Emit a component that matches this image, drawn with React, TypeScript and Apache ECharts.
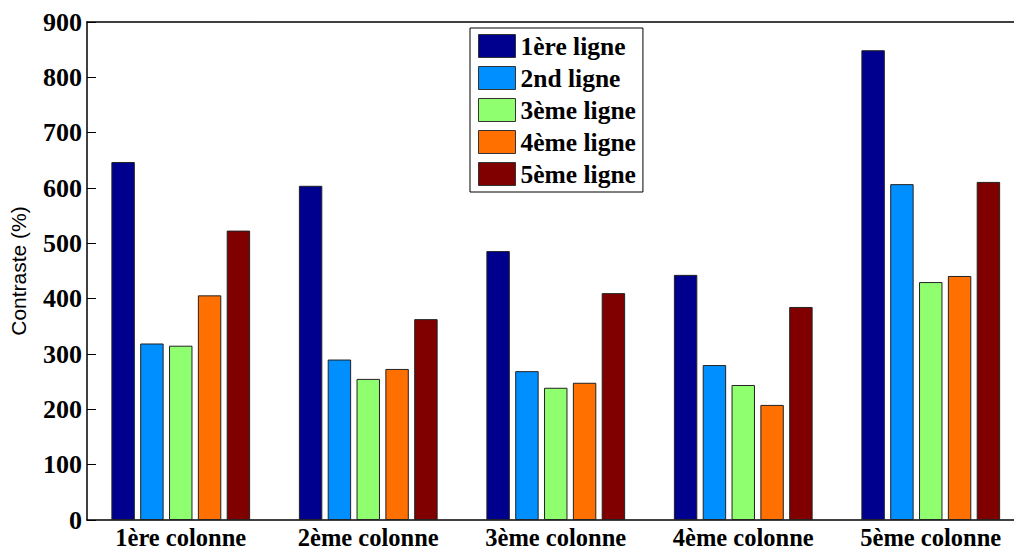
import React, { useEffect, useRef } from "react";
import * as echarts from "echarts";

const categories = ["1ère colonne", "2ème colonne", "3ème colonne", "4ème colonne", "5ème colonne"];
const seriesNames = ["1ère ligne", "2nd ligne", "3ème ligne", "4ème ligne", "5ème ligne"];
const ligne1 = [647, 604, 486, 443, 849];
const ligne2 = [319, 290, 269, 280, 607];
const ligne3 = [315, 255, 239, 244, 430];
const ligne4 = [406, 273, 248, 208, 441];
const ligne5 = [523, 363, 410, 385, 611];
const seriesValues = [ligne1, ligne2, ligne3, ligne4, ligne5];
const colors = ["#00008F", "#008FFF", "#8FFF70", "#FF7000", "#800000"];

const serif = "Liberation Serif";

export default function App() {
  const ref = useRef<HTMLDivElement>(null);
  useEffect(() => {
    if (!ref.current) return;
    const chart = echarts.init(ref.current, undefined, { renderer: "svg" });
    chart.setOption({
      animation: false,
      backgroundColor: "#ffffff",
      grid: { left: 87, right: 0.5, top: 22, bottom: 30, containLabel: false, outerBoundsMode: "none" },
      legend: {
        orient: "vertical",
        left: 470,
        top: 28,
        backgroundColor: "#ffffff",
        borderColor: "#000000",
        borderWidth: 1,
        borderRadius: 0,
        padding: [5, 7, 5, 8],
        itemWidth: 37,
        itemHeight: 23,
        itemGap: 6,
        icon: "rect",
        data: seriesNames,
        itemStyle: { borderColor: "#333333", borderWidth: 1 },
        textStyle: {
          fontFamily: serif,
          fontWeight: "bold",
          fontSize: 25.5,
          color: "#000000",
          lineHeight: 23,
        },
      },
      xAxis: [
        {
          type: "category",
          data: categories,
          position: "bottom",
          axisLine: { lineStyle: { color: "#000000", width: 1.5 } },
          axisTick: { inside: true, length: 9, alignWithLabel: true, lineStyle: { color: "#000000" } },
          axisLabel: {
            interval: 0,
            hideOverlap: false,
            fontFamily: serif,
            fontWeight: "bold",
            fontSize: 24.5,
            lineHeight: 20,
            color: "#000000",
            margin: 7.5,
          },
        },
        {
          type: "category",
          data: categories,
          position: "top",
          axisLine: { lineStyle: { color: "#000000", width: 1.5 } },
          axisTick: { inside: true, length: 9, alignWithLabel: true, lineStyle: { color: "#000000" } },
          axisLabel: { show: false },
        },
      ],
      yAxis: {
        type: "value",
        min: 0,
        max: 900,
        interval: 100,
        name: "Contraste (%)",
        nameLocation: "middle",
        nameGap: 58,
        nameRotate: 90,
        nameMoveOverlap: false,
        nameTextStyle: {
          fontFamily: "Liberation Sans",
          fontSize: 21,
          color: "#000000",
        },
        axisLine: { show: true, lineStyle: { color: "#000000", width: 1.5 } },
        axisTick: { show: true, inside: true, length: 9, lineStyle: { color: "#000000" } },
        splitLine: { show: false },
        axisLabel: {
          fontFamily: serif,
          fontWeight: "bold",
          fontSize: 26,
          color: "#000000",
          margin: 5,
        },
      },
      series: seriesValues.map((vals, i) => ({
        name: seriesNames[i],
        type: "bar",
        data: vals,
        xAxisIndex: 0,
        barCategoryGap: "26%",
        barGap: "23%",
        itemStyle: { color: colors[i], borderColor: "#222222", borderWidth: 1 },
      })),
    });
    return () => chart.dispose();
  }, []);
  return (
    <div style={{ position: "absolute", left: 0, top: 0, width: 1014, height: 550, overflow: "hidden" }}>
      <div ref={ref} style={{ width: 1025, height: 550 }} />
    </div>
  );
}
